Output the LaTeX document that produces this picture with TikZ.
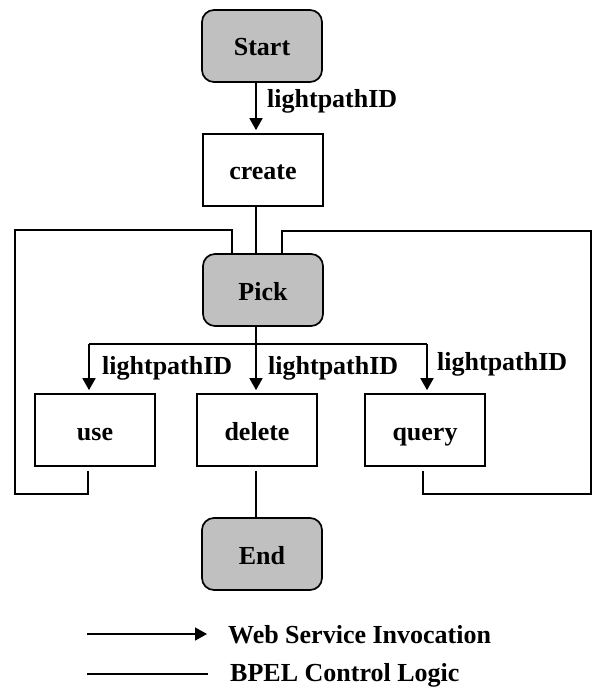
\documentclass[tikz,border=0pt]{standalone}
\usepackage{fontspec}
\setmainfont{Liberation Serif}
\usetikzlibrary{arrows.meta}
\definecolor{boxgray}{RGB}{192,192,192}
\tikzset{
  ctl/.style={line width=1.7pt},
  arr/.style={line width=1.7pt, -{Triangle[length=12pt,width=13pt]}},
  box/.style={draw, line width=1.7pt, minimum width=120pt, minimum height=72pt,
    inner sep=0pt, text height=20pt, text depth=0pt,
    font=\fontsize{26}{30}\selectfont\bfseries},
  term/.style={box, fill=boxgray, rounded corners=12pt},
  lbl/.style={inner sep=0pt, font=\fontsize{26}{30}\selectfont\bfseries},
}
\begin{document}
\begin{tikzpicture}[x=1pt,y=-1pt]
\useasboundingbox (0,0) rectangle (594,692);

% activities
\node[term] (start)  at (262,46)  {Start};
\node[box]  (create) at (263,170) {create};
\node[term] (pick)   at (263,290) {Pick};
\node[box]  (use)    at (95,430)  {use};
\node[box]  (delete) at (257,430) {delete};
\node[box]  (query)  at (425,430) {query};
\node[term] (end)    at (262,554) {End};

% branch bus below Pick
\coordinate (busL) at (89,344);
\coordinate (busM) at (256,344);
\coordinate (busR) at (427,344);
% corners of the two loops back to Pick
\coordinate (loopL) at (15,230);
\coordinate (loopR) at (591,231);

% invocations
\draw[arr, shorten >=3pt] (start.south -| busM) -- (create.north -| busM);
\node[lbl, anchor=base west] (lpStart) at (267,108) {lightpathID};

\draw[ctl] (create.south -| busM) -- (pick.north -| busM);
\draw[ctl] (pick.south -| busM) -- (busM);
\draw[ctl] (busL) -- (busR);
\draw[arr, shorten >=3pt] (busL) -- (busL |- use.north);
\draw[arr, shorten >=3pt] (busM) -- (busM |- delete.north);
\draw[arr, shorten >=3pt] (busR) -- (busR |- query.north);
\node[lbl, anchor=base west] (lpUse)    at (102,374) {lightpathID};
\node[lbl, anchor=base west] (lpDelete) at (268,374) {lightpathID};
\node[lbl, anchor=base west] (lpQuery)  at (437,370) {lightpathID};

% loops back to Pick
\draw[ctl, shorten <=4pt] ([xshift=-7pt]use.south) -- ++(0,27) -| (loopL)
  -| ([xshift=-31pt]pick.north);
\draw[ctl, shorten <=4pt] ([xshift=-2pt]query.south) -- ++(0,27) -| (loopR)
  -| ([xshift=19pt]pick.north);

% termination
\draw[ctl, shorten <=4pt] (delete.south -| busM) -- (end.north -| busM);

% legend
\coordinate (lgA0) at (87,634);
\coordinate (lgA1) at (207,634);
\coordinate (lgB0) at (87,674);
\coordinate (lgB1) at (208,674);
\draw[arr] (lgA0) -- (lgA1);
\draw[ctl] (lgB0) -- (lgB1);
\node[lbl, anchor=base west] (lgWeb)  at (228,643) {Web Service Invocation};
\node[lbl, anchor=base west] (lgBpel) at (230,681) {BPEL Control Logic};
\end{tikzpicture}
\end{document}
